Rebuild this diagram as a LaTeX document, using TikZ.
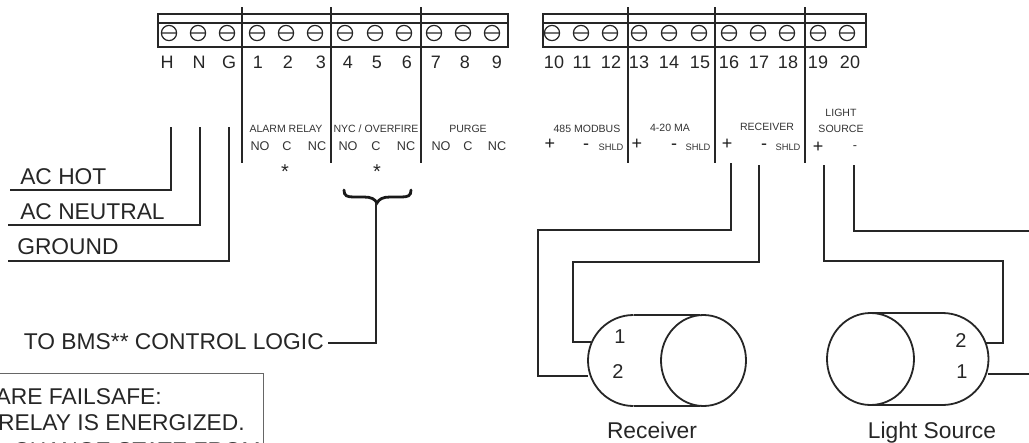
\documentclass[tikz,border=0pt]{standalone}
\usepackage{fontspec}
\setmainfont{Liberation Sans}
\tikzset{
 x=0.75pt,y=-0.75pt,
 wire/.style={line width=1.7pt,draw=black!85,line cap=butt,line join=miter},
 bar/.style={line width=1.9pt,draw=black!85},
 bodyline/.style={line width=1.35pt,draw=black!85},
 num/.style={inner sep=0pt,font=\fontsize{13.5}{15}\selectfont,text=black!85},
 pin/.style={inner sep=0pt,font=\fontsize{15}{17}\selectfont,text=black!85},
 small/.style={inner sep=0pt,font=\fontsize{7.9}{9}\selectfont,text=black!80},
 mid/.style={inner sep=0pt,font=\fontsize{9.5}{11}\selectfont,text=black!80},
 shld/.style={inner sep=0pt,font=\fontsize{7}{8}\selectfont,text=black!80},
 pm/.style={inner sep=0pt,font=\fontsize{13.5}{15}\selectfont,text=black!90},
 star/.style={inner sep=0pt,font=\fontsize{15}{17}\selectfont,text=black!85},
 big/.style={inner sep=0pt,font=\fontsize{17.1}{19}\selectfont,text=black!85},
}
\newcommand{\screw}[1]{\draw[line width=0.9pt,draw=black!85] (#1,33) circle (7.6) (#1-7.6,33) -- (#1+7.6,33);}
\begin{document}
\begin{tikzpicture}
\useasboundingbox (0,0) rectangle (1029,443);
% left block
\draw[bar] (158,14) rectangle (508,47);
\draw[bar] (158,23) -- (508,23);
\foreach \x in {169,198,227,257,286,315,345,375,404,434,463,492}{\screw{\x}}
\foreach \x in {242,331,421}{\draw[bar] (\x,7) -- (\x,163);}
\foreach \x/\t in {167/H,199/N,229/G,258/1,288/2,321/3,348/4,377/5,407/6,436/7,465/8,497/9}{\node[num] at (\x,62) {\t};}
% right block
\draw[bar] (543,14) rectangle (866,47);
\draw[bar] (543,23) -- (866,23);
\foreach \x in {552,581,610,639,669,699,729,758,787,818,847}{\screw{\x}}
\foreach \x in {628,715,805}{\draw[bar] (\x,7) -- (\x,163);}
\foreach \x/\t in {554/10,582/11,611/12,639/13,669/14,700/15,729/16,759/17,788/18,818/19,850/20}{\node[num] at (\x,62) {\t};}
% labels
\node[small] at (286,129) {ALARM RELAY};
\node[small] at (376,129) {NYC / OVERFIRE};
\node[small] at (468,129) {PURGE};
\node[mid] at (260,146) {NO}; \node[mid] at (287,146) {C}; \node[mid] at (317,146) {NC};
\node[mid] at (348,146) {NO}; \node[mid] at (376,146) {C}; \node[mid] at (406,146) {NC};
\node[mid] at (441,146) {NO}; \node[mid] at (468,146) {C}; \node[mid] at (497,146) {NC};
\node[star] at (285,172) {*}; \node[star] at (377,172) {*};
\node[small] at (587,129) {485 MODBUS};
\node[small] at (670,128) {4-20 MA};
\node[small] at (767,127) {RECEIVER};
\node[small] at (841,113) {LIGHT};
\node[small] at (841,129) {SOURCE};
\node[pm] at (550,144) {+}; \node[pm] at (586,147) {-};
\node[shld] at (611,147) {SHLD};
\node[pm] at (637,144) {+}; \node[pm] at (674,147) {-};
\node[shld] at (698,147) {SHLD};
\node[pm] at (727,144) {+}; \node[pm] at (764,147) {-};
\node[shld] at (788,147) {SHLD};
\node[pm] at (818,147) {+}; \node[mid] at (855,148) {-};
% AC wires
\node[big,anchor=west] (ach) at (20,177) {AC HOT};
\node[big,anchor=west] (acn) at (20,212) {AC NEUTRAL};
\node[big,anchor=west] (gnd) at (17,247) {GROUND};
\coordinate (hs) at (171,127); \coordinate (ns) at (200,127); \coordinate (gs) at (229,127);
\coordinate (he) at (10,190); \coordinate (ne) at (8,225); \coordinate (ge) at (8,261);
\draw[wire] (hs) |- (he);
\draw[wire] (ns) |- (ne);
\draw[wire] (gs) |- (ge);
% brace
\node[big,anchor=east] (bms) at (324,342) {TO BMS** CONTROL LOGIC};
\draw[line width=2.1pt,draw=black!90,line cap=round] (344,190) .. controls (344,196) and (347,197) .. (354,197) -- (364,197) .. controls (371,197) and (375,199) .. (377,203) .. controls (379,199) and (383,197) .. (390,197) -- (401,197) .. controls (408,197) and (411,196) .. (411,190);
\coordinate (brc) at (376,203);
\draw[wire] (brc) |- (328,343);
% note box
\draw[line width=0.6pt,draw=black!60] (0,373) -- (263,373) -- (263,443);
\node[big,anchor=east] (n1) at (162,397) {ARE FAILSAFE:};
\node[big,anchor=east] (n2) at (245,423) {RELAY IS ENERGIZED.};
\node[big,anchor=east] (n3) at (261,451) {CHANGE STATE FROM};
% receiver
\draw[bodyline] (633.5,315) -- (700,315) (633.5,406) -- (700,406);
\draw[bodyline] (633.5,315) arc (-90:-270:45.5);
\draw[bodyline] (703.5,360.5) circle (42.5 and 45.5);
\draw[wire] (731,163) |- (538,230) |- (588,376);
\draw[wire] (759,165) |- (573,262) |- (591,342);
\node[pin] at (620,337) {1};
\node[pin] at (618,372) {2};
\node[big,anchor=base] at (652,438) {Receiver};
% light source
\draw[bodyline] (870.5,313) -- (942.5,313) (870.5,405) -- (942.5,405);
\draw[bodyline] (942.5,313) arc (-90:90:46);
\draw[bodyline] (870.5,359) circle (43.5 and 46);
\draw[wire] (824,165) |- (1003,261) |- (985,343);
\draw[wire] (854,165) |- (1029,231);
\draw[wire] (988,374) -- (1029,374);
\node[pin] at (961,341) {2};
\node[pin] at (962,372) {1};
\node[big,anchor=base] at (932,438) {Light Source};
\end{tikzpicture}
\end{document}
